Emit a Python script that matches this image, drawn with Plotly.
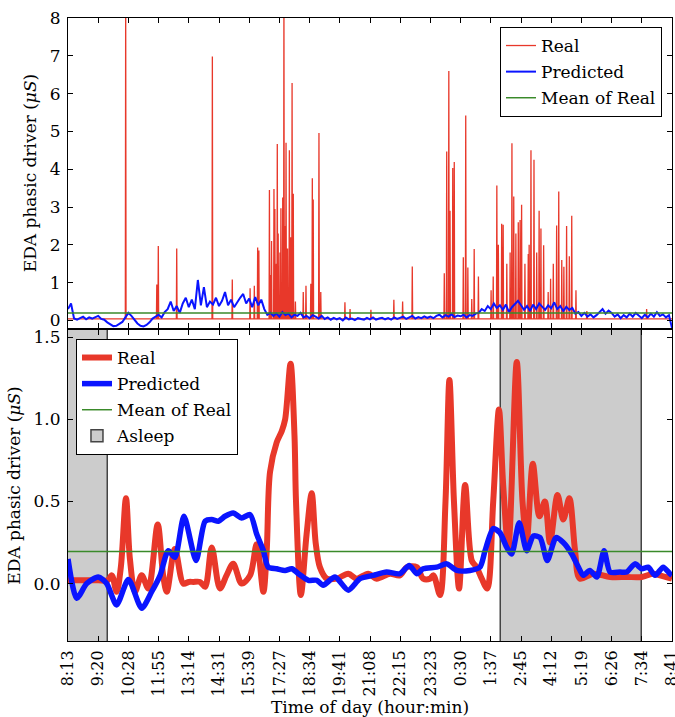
import plotly.graph_objects as go

FONT = "DejaVu Serif"
FS = 17

# ---------------- data ----------------
tick_labels = ["8:13", "9:20", "10:28", "11:55", "13:14", "14:31", "15:39", "17:27",
               "18:34", "19:41", "21:08", "22:15", "23:23", "0:30", "1:37", "2:45",
               "4:12", "5:19", "6:26", "7:34", "8:41"]

# top panel: Real (spiky raw signal) -- spike positions (tick units) and heights
real_top_base = 0.04
real_spike_u = [1.91, 2.94, 2.99, 3.60, 4.78, 5.44, 6.03, 6.17, 6.28, 6.32,
                6.67, 6.71, 6.74, 6.82, 6.85, 6.90, 6.93, 6.96, 7.02, 7.05, 7.11, 7.15,
                7.19, 7.22, 7.27, 7.33, 7.37, 7.42, 7.46, 7.53, 7.79, 7.88, 8.04, 8.09,
                8.12, 8.31, 8.37, 9.17, 9.34, 10.03, 10.79, 11.08, 11.40,
                12.46, 12.54, 12.61, 12.65, 12.74, 12.79, 13.09, 13.17, 13.24, 13.37,
                13.45, 13.59, 14.01, 14.08, 14.20, 14.25, 14.36, 14.41, 14.53, 14.64,
                14.70, 14.76, 14.83, 14.91, 14.97, 15.02, 15.13, 15.24, 15.27, 15.33,
                15.43, 15.52, 15.60, 15.66, 15.75, 15.90, 15.98, 16.07, 16.18, 16.25,
                16.35, 16.42, 16.51, 16.60, 16.68, 16.82, 17.18, 19.16]
real_spike_h = [8.6, 0.95, 1.97, 1.90, 6.98, 1.08, 0.85, 0.92, 1.93, 1.85,
                3.45, 1.20, 2.10, 3.48, 2.95, 1.50, 4.67, 2.30, 1.80, 2.97, 3.25, 8.6,
                2.50, 4.70, 1.90, 4.50, 2.20, 6.28, 3.35, 0.50, 0.75, 0.92, 0.97, 3.76,
                3.20, 4.96, 0.75, 0.48, 0.30, 0.28, 0.55, 0.50, 1.43,
                1.25, 4.47, 6.60, 2.90, 4.03, 4.19, 1.67, 5.42, 1.40, 0.57,
                1.89, 1.16, 0.80, 1.16, 3.57, 2.00, 2.56, 2.53, 1.50, 1.80,
                4.69, 3.28, 2.30, 2.60, 2.66, 3.06, 1.50, 1.76, 2.00, 4.50,
                4.25, 1.80, 2.90, 2.43, 1.99, 0.75, 1.10, 1.50, 2.51, 3.41,
                1.60, 1.42, 2.50, 1.70, 2.77, 0.80, 0.25, 0.30]

# top panel: Predicted (noisy), sampled every 0.1 tick units from 0 to 20
pred_top = [0.30, 0.45, 0.05, 0.02, 0.06, 0.10, 0.03, 0.08, 0.05, 0.09,
            0.12, 0.04, 0.02, -0.05, -0.11, -0.15, -0.14, -0.10, -0.04, 0.08,
            0.20, 0.12, 0.02, -0.08, -0.14, -0.16, -0.12, -0.05, 0.05, 0.10,
            0.15, 0.08, 0.22, 0.30, 0.50, 0.25, 0.38, 0.20, 0.45, 0.60,
            0.35, 0.55, 0.30, 1.07, 0.40, 0.88, 0.35, 0.50, 0.42, 0.60,
            0.38, 0.52, 0.75, 0.40, 0.55, 0.35, 0.48, 0.60, 0.70, 0.45,
            0.58, 0.35, 0.62, 0.40, 0.55, 0.30, 0.15, 0.20, 0.12, 0.18,
            0.10, 0.22, 0.14, 0.18, 0.08, 0.15, 0.12, 0.20, 0.08, 0.12,
            0.06, 0.14, 0.10, 0.05, 0.12, 0.04, 0.08, 0.02, 0.07, 0.03,
            0.06, 0.00, 0.08, 0.03, 0.05, 0.01, 0.06, 0.04, 0.02, 0.07,
            0.03, 0.08, 0.02, 0.05, 0.07, 0.03, 0.06, 0.02, 0.08, 0.04,
            0.06, 0.10, 0.04, 0.08, 0.12, 0.05, 0.09, 0.06, 0.11, 0.07,
            0.10, 0.06, 0.12, 0.15, 0.08, 0.14, 0.10, 0.16, 0.09, 0.13,
            0.11, 0.15, 0.08, 0.14, 0.12, 0.18, 0.20, 0.30, 0.25, 0.38,
            0.30, 0.45, 0.33, 0.40, 0.28, 0.42, 0.22, 0.35, 0.45, 0.52,
            0.40, 0.28, 0.38, 0.25, 0.42, 0.30, 0.45, 0.35, 0.28, 0.40,
            0.32, 0.48, 0.30, 0.38, 0.25, 0.36, 0.28, 0.33, 0.18, 0.22,
            0.12, 0.20, 0.10, 0.16, 0.08, 0.14, 0.22, 0.30, 0.18, 0.26,
            0.20, 0.10, 0.16, 0.06, 0.14, 0.08, 0.18, 0.10, 0.20, 0.12,
            0.06, 0.15, 0.08, 0.18, 0.10, 0.22, 0.12, 0.16, 0.08, 0.14,
            -0.20]

# bottom panel: smoothed Real
real_u = [0, 0.5, 1.0, 1.32, 1.45, 1.61, 1.75, 1.92, 2.05, 2.22, 2.44, 2.66, 2.97,
          3.15, 3.27, 3.54, 3.82, 4.0, 4.15, 4.37, 4.54, 4.76, 5.03, 5.25, 5.47,
          5.75, 6.03, 6.25, 6.47, 6.58, 6.69, 6.91, 7.08, 7.19, 7.37, 7.5, 7.55,
          7.71, 7.9, 8.07, 8.2, 8.34, 8.57, 8.90, 9.28, 9.56, 9.94, 10.22, 10.66,
          10.99, 11.22, 11.55, 11.76, 11.99, 12.10, 12.32, 12.5, 12.63, 12.78, 12.95,
          13.15, 13.37, 13.53, 13.70, 13.88, 14.08, 14.27, 14.41, 14.58, 14.86,
          15.05, 15.19, 15.39, 15.61, 15.79, 15.96, 16.21, 16.40, 16.60, 16.79,
          16.95, 17.39, 17.95, 18.50, 19.00, 19.38, 19.60, 20]
real_v = [0.02, 0.02, 0.02, 0.02, 0.05, -0.05, 0.10, 0.52, 0.15, -0.05, 0.05, -0.03, 0.36,
          0.05, -0.05, 0.21, 0.00, 0.01, 0.01, 0.01, -0.02, 0.22, -0.03, 0.05, 0.12,
          0.00, 0.05, 0.24, -0.05, 0.20, 0.68, 0.86, 0.93, 1.00, 1.34, 0.90, 0.50,
          -0.07, 0.30, 0.55, 0.25, 0.10, 0.03, 0.03, 0.06, 0.03, 0.06, 0.03, 0.06,
          0.05, 0.10, 0.10, 0.03, 0.03, 0.05, -0.07, 0.50, 1.24, 0.50, -0.03,
          0.60, 0.14, 0.10, 0.03, -0.03, 0.50, 1.06, 0.60, 0.22, 1.35,
          0.50, 0.26, 0.73, 0.41, 0.50, 0.25, 0.54, 0.39, 0.52, 0.20,
          0.03, 0.06, 0.04, 0.04, 0.04, 0.06, 0.05, 0.03]

# bottom panel: smoothed Predicted
pred_u = [0, 0.29, 0.62, 1.0, 1.28, 1.61, 2.0, 2.44, 2.77, 3.05, 3.32, 3.54, 3.84,
          4.24, 4.54, 4.76, 4.98, 5.20, 5.47, 5.75, 6.03, 6.25, 6.47, 6.63, 6.91,
          7.19, 7.41, 7.63, 7.96, 8.24, 8.45, 8.84, 9.28, 9.67, 10.11, 10.55, 10.99,
          11.30, 11.55, 11.76, 12.21, 12.54, 12.87, 13.31, 13.64, 13.81, 14.08,
          14.30, 14.53, 14.69, 14.94, 15.19, 15.41, 15.63, 15.87, 16.16, 16.40,
          16.68, 16.90, 17.06, 17.28, 17.51, 17.75, 17.95, 18.28, 18.50, 18.77,
          19.00, 19.21, 19.44, 19.71, 19.93, 20]
pred_v = [0.15, -0.09, 0.00, 0.04, 0.00, -0.13, 0.025, -0.15, -0.05, 0.05, 0.20, 0.16, 0.41,
          0.14, 0.38, 0.39, 0.38, 0.41, 0.43, 0.40, 0.42, 0.30, 0.20, 0.10, 0.09,
          0.08, 0.09, 0.06, 0.02, 0.02, -0.01, 0.04, -0.04, 0.03, 0.05, 0.07, 0.06,
          0.11, 0.06, 0.09, 0.10, 0.12, 0.08, 0.08, 0.10, 0.20, 0.335,
          0.31, 0.22, 0.18, 0.37, 0.20, 0.29, 0.28, 0.14, 0.28, 0.25,
          0.18, 0.10, 0.05, 0.08, 0.04, 0.20, 0.07, 0.07, 0.07, 0.12,
          0.09, 0.10, 0.05, 0.10, 0.06, 0.05]

mean_real = 0.195
asleep_start = [-0.1, 14.33]
asleep_end = [1.32, 19.02]

# ---------------- styles ----------------
RED = "#e8382a"
BLUE = "#0a14ff"
GREEN = "#3a8a2a"
GREY = "#cccccc"

fig = go.Figure()

# ---- top panel ----
rx = [0.0]
ry = [real_top_base]
for u, h in sorted(zip(real_spike_u, real_spike_h)):
    rx += [u - 0.012, u, u + 0.012]
    ry += [real_top_base, h, real_top_base]
rx.append(20.0)
ry.append(real_top_base)

fig.add_trace(go.Scatter(x=rx, y=ry, mode="lines", name="Real",
                         line=dict(color=RED, width=1.3),
                         xaxis="x", yaxis="y", legend="legend", legendgroup="a"))
fig.add_trace(go.Scatter(x=[i / 10 for i in range(len(pred_top))], y=pred_top,
                         mode="lines", name="Predicted",
                         line=dict(color=BLUE, width=2),
                         xaxis="x", yaxis="y", legend="legend", legendgroup="b"))
fig.add_trace(go.Scatter(x=[0, 20], y=[mean_real, mean_real], mode="lines",
                         name="Mean of Real", line=dict(color=GREEN, width=1.5),
                         xaxis="x", yaxis="y", legend="legend", legendgroup="c"))

# ---- bottom panel ----
centers = [(s + e) / 2 for s, e in zip(asleep_start, asleep_end)]
widths = [e - s for s, e in zip(asleep_start, asleep_end)]
fig.add_trace(go.Bar(x=centers, width=widths, y=[4] * len(centers), base=-1,
                     marker=dict(color=GREY, line=dict(color="#444444", width=1.5)),
                     name="Asleep", xaxis="x2", yaxis="y2", legend="legend2",
                     legendgroup="h", legendrank=4, hoverinfo="skip"))
fig.add_trace(go.Scatter(x=real_u, y=real_v, mode="lines", name="Real",
                         line=dict(color=RED, width=6, shape="spline", smoothing=0.9),
                         xaxis="x2", yaxis="y2", legend="legend2",
                         legendgroup="e", legendrank=1))
fig.add_trace(go.Scatter(x=pred_u, y=pred_v, mode="lines", name="Predicted",
                         line=dict(color=BLUE, width=5.5, shape="spline", smoothing=0.7),
                         xaxis="x2", yaxis="y2", legend="legend2",
                         legendgroup="f", legendrank=2))
fig.add_trace(go.Scatter(x=[0, 20], y=[mean_real, mean_real], mode="lines",
                         name="Mean of Real", line=dict(color=GREEN, width=1.5),
                         xaxis="x2", yaxis="y2", legend="legend2",
                         legendgroup="g", legendrank=3))

axis_common = dict(showline=True, linecolor="black", linewidth=1, mirror="ticks",
                   ticks="inside", ticklen=5, tickcolor="black", showgrid=False,
                   zeroline=False, automargin=False,
                   tickfont=dict(family=FONT, size=FS, color="black"))

ytitle = dict(text="EDA phasic driver (<i>μS</i>)",
              font=dict(family=FONT, size=FS, color="black"), standoff=8)

fig.update_layout(
    width=675, height=717,
    margin=dict(l=68, r=3, t=18, b=76),
    paper_bgcolor="white", plot_bgcolor="white",
    font=dict(family=FONT, size=FS, color="black"),
    bargap=0,
    xaxis=dict(axis_common, domain=[0, 1], range=[0, 20], anchor="y",
               tickvals=list(range(len(tick_labels))), showticklabels=False),
    yaxis=dict(axis_common, domain=[0.5024, 1], range=[-0.2, 8], anchor="x",
               tickvals=[0, 1, 2, 3, 4, 5, 6, 7, 8], title=ytitle,
               ticklabelstandoff=3),
    xaxis2=dict(axis_common, domain=[0, 1], range=[0, 20], anchor="y2",
                tickvals=list(range(len(tick_labels))), ticktext=tick_labels,
                tickangle=-90, ticklabelstandoff=2, ticklabeloverflow="allow",
                tickfont=dict(family=FONT, size=16, color="black"),
                title=dict(text="Time of day (hour:min)",
                           font=dict(family=FONT, size=FS, color="black"), standoff=2)),
    yaxis2=dict(axis_common, domain=[0, 0.4992], range=[-0.35, 1.545], anchor="x2",
                tickvals=[0, 0.5, 1.0, 1.5], tickformat=".1f", title=ytitle,
                ticklabelstandoff=3),
    legend=dict(x=0.9834, y=0.9856, xanchor="right", yanchor="top",
                bgcolor="white", bordercolor="black", borderwidth=1,
                font=dict(family=FONT, size=FS, color="black"),
                traceorder="grouped", tracegroupgap=1),
    legend2=dict(x=0.0132, y=0.4848, xanchor="left", yanchor="top",
                 bgcolor="white", bordercolor="black", borderwidth=1,
                 font=dict(family=FONT, size=FS, color="black"),
                 traceorder="grouped", tracegroupgap=1),
    showlegend=True,
)

fig.write_html("out.html")
